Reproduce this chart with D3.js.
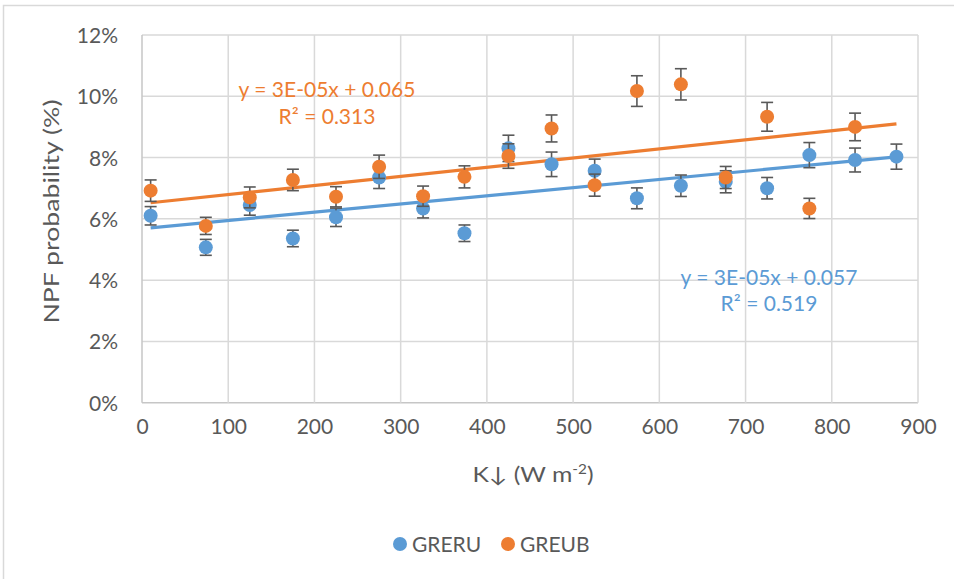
<!DOCTYPE html>
<html>
<head>
<meta charset="utf-8">
<script src="https://cdn.jsdelivr.net/npm/d3@7"></script>
<style>
  body { margin: 0; background: #fff; }
  svg { display: block; }
  text { font-family: Lato, "Open Sans", sans-serif; }
</style>
</head>
<body>
<svg id="chart" width="954" height="579"></svg>
<script>
// Downward shortwave radiation bins (W m-2)
const kBins = [10, 74, 125, 175, 225, 275, 326, 374, 425, 475, 525, 574, 625, 677, 725, 774, 827, 875];

// NPF probability (%) and error (±%) per bin
const greruValues = [6.10, 5.07, 6.45, 5.36, 6.05, 7.35, 6.34, 5.53, 8.30, 7.78, 7.57, 6.67, 7.08, 7.21, 7.00, 8.08, 7.92, 8.03];
const greruErrors = [0.30, 0.26, 0.33, 0.27, 0.30, 0.36, 0.31, 0.27, 0.43, 0.40, 0.38, 0.34, 0.35, 0.36, 0.35, 0.41, 0.39, 0.41];
const greubValues = [6.92, 5.77, 6.70, 7.27, 6.72, 7.70, 6.74, 7.37, 8.05, 8.95, 7.10, 10.17, 10.39, 7.35, 9.33, 6.34, 9.00];
const greubErrors = [0.35, 0.28, 0.34, 0.35, 0.33, 0.38, 0.33, 0.36, 0.40, 0.44, 0.36, 0.50, 0.51, 0.36, 0.47, 0.33, 0.45];

const seriesNames = ["GRERU", "GREUB"];
const seriesColors = ["#5B9BD5", "#ED7D31"];
const trendLabels = [
  ["y = 3E-05x + 0.057", "R\u00B2 = 0.519"],
  ["y = 3E-05x + 0.065", "R\u00B2 = 0.313"]
];

const xTicks = d3.range(0, 901, 100);
const yTicks = d3.range(0, 13, 2);

const svg = d3.select("#chart");
const plot = { left: 142, right: 918, top: 35, bottom: 402.7 };

const x = d3.scaleLinear().domain([0, 900]).range([plot.left, plot.right]);
const y = d3.scaleLinear().domain([0, 12]).range([plot.bottom, plot.top]);

const textColor = "#595959";

// chart frame
svg.append("rect")
  .attr("x", 3.5).attr("y", 5.5).attr("width", 1200).attr("height", 1200)
  .attr("fill", "none").attr("stroke", "#d9d9d9").attr("stroke-width", 1.5);

// gridlines
const grid = svg.append("g");
grid.selectAll("line.h").data(yTicks).join("line")
  .attr("x1", plot.left).attr("x2", plot.right)
  .attr("y1", d => y(d)).attr("y2", d => y(d))
  .attr("stroke", d => d === 0 ? "#c6c6c6" : "#d9d9d9").attr("stroke-width", 1.5);
grid.selectAll("line.v").data(xTicks).join("line")
  .attr("y1", plot.top).attr("y2", plot.bottom)
  .attr("x1", d => x(d)).attr("x2", d => x(d))
  .attr("stroke", d => d === 0 ? "#c6c6c6" : "#d9d9d9").attr("stroke-width", 1.5);

// axes (labels only; gridlines drawn above)
const yAxis = svg.append("g")
  .attr("transform", `translate(${plot.left},0)`)
  .call(d3.axisLeft(y).tickValues(yTicks).tickSize(0).tickPadding(24).tickFormat(d => d + "%"));
const xAxis = svg.append("g")
  .attr("transform", `translate(0,${plot.bottom})`)
  .call(d3.axisBottom(x).tickValues(xTicks).tickSize(0).tickPadding(24).tickFormat(d3.format("d")));
[yAxis, xAxis].forEach(a => {
  a.select(".domain").remove();
  a.selectAll("text").attr("fill", textColor).style("font-size", "21px")
    .style("font-family", "Lato, 'Open Sans', sans-serif");
});
yAxis.selectAll("text").attr("dy", "0.36em");
xAxis.selectAll("text").attr("dy", "0.36em");

// axis titles (set slightly wide)
const xTitle = svg.append("text")
  .attr("transform", "translate(533,482) scale(1.18,1)")
  .attr("text-anchor", "middle").attr("fill", textColor).style("font-size", "21px");
xTitle.append("tspan").text("K\u2193 (W m");
xTitle.append("tspan").attr("dy", -8).style("font-size", "13px").text("-2");
xTitle.append("tspan").attr("dy", 8).text(")");

svg.append("text")
  .attr("transform", "translate(59,211.5) rotate(-90) scale(1.27,1)")
  .attr("text-anchor", "middle").attr("fill", textColor).style("font-size", "21px")
  .text("NPF probability (%)");

// least-squares trend line
function fit(xs, ys) {
  const mx = d3.mean(xs), my = d3.mean(ys);
  let sxy = 0, sxx = 0;
  xs.forEach((v, i) => { sxy += (v - mx) * (ys[i] - my); sxx += (v - mx) ** 2; });
  const slope = sxy / sxx;
  return { slope, intercept: my - slope * mx };
}

const series = [
  { values: greruValues, errors: greruErrors },
  { values: greubValues, errors: greubErrors }
].map((s, i) => ({
  ...s,
  name: seriesNames[i],
  color: seriesColors[i],
  points: s.values.map((v, j) => ({ k: kBins[j], v, e: s.errors[j] }))
}));

const kExtent = d3.extent(kBins);
const line = d3.line().x(d => x(d[0])).y(d => y(d[1]));

// trend lines
series.forEach(s => {
  const f = fit(s.points.map(p => p.k), s.points.map(p => p.v));
  svg.append("path")
    .attr("d", line(kExtent.map(k => [k, f.intercept + f.slope * k])))
    .attr("fill", "none").attr("stroke", s.color).attr("stroke-width", 3.2);
});

// error bars and markers
const capHalf = 6;
series.forEach(s => {
  const g = svg.append("g");
  const eb = g.selectAll("g.eb").data(s.points).join("g").attr("stroke", "#595959").attr("stroke-width", 1.6);
  eb.append("line").attr("x1", d => x(d.k)).attr("x2", d => x(d.k))
    .attr("y1", d => y(d.v - d.e)).attr("y2", d => y(d.v + d.e));
  eb.append("line").attr("x1", d => x(d.k) - capHalf).attr("x2", d => x(d.k) + capHalf)
    .attr("y1", d => y(d.v + d.e)).attr("y2", d => y(d.v + d.e));
  eb.append("line").attr("x1", d => x(d.k) - capHalf).attr("x2", d => x(d.k) + capHalf)
    .attr("y1", d => y(d.v - d.e)).attr("y2", d => y(d.v - d.e));
  g.selectAll("circle").data(s.points).join("circle")
    .attr("cx", d => x(d.k)).attr("cy", d => y(d.v)).attr("r", 7)
    .attr("fill", s.color);
});

// trend equations
const labelPos = [[769, 285, 310.7], [327, 96.7, 124]];
series.forEach((s, i) => {
  const [cx, y1, y2] = labelPos[i];
  trendLabels[i].forEach((t, j) => {
    svg.append("text").attr("x", cx).attr("y", j === 0 ? y1 : y2)
      .attr("text-anchor", "middle").attr("fill", s.color).style("font-size", "21px").text(t);
  });
});

// legend
const legend = svg.append("g");
const legendItems = [{ x: 400 }, { x: 508 }];
series.forEach((s, i) => {
  legend.append("circle").attr("cx", legendItems[i].x).attr("cy", 544).attr("r", 7).attr("fill", s.color);
  legend.append("text").attr("x", legendItems[i].x + 12).attr("y", 551.5)
    .attr("fill", textColor).style("font-size", "21px").text(s.name);
});
</script>
</body>
</html>
